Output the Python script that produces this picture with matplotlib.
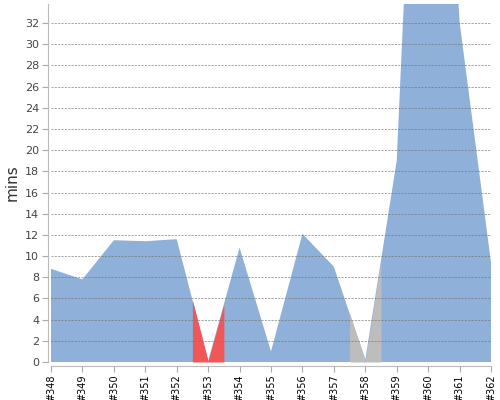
import numpy as np
import matplotlib.pyplot as plt

# build numbers (#348 .. #362) and their duration in minutes
builds = ['#348', '#349', '#350', '#351', '#352', '#353', '#354', '#355',
          '#356', '#357', '#358', '#359', '#360', '#361', '#362']
minutes = [8.8, 7.8, 11.5, 11.4, 11.6, 0.1, 10.8, 1.0,
           12.1, 9.0, 0.2, 19.0, 85.0, 32.1, 9.4]
status = ['ok', 'ok', 'ok', 'ok', 'ok', 'failed', 'ok', 'ok',
          'ok', 'ok', 'aborted', 'ok', 'ok', 'ok', 'ok']

status_colors = {'ok': '#8eb0d9', 'failed': '#f25757', 'aborted': '#bdbdbd'}


def draw():
    fig = plt.figure(figsize=(5, 4), dpi=100)
    ax = fig.add_axes([0.102, 0.095, 0.88, 0.895])

    x = np.arange(len(builds))
    y = np.array(minutes)

    # whole area in the "ok" colour, then other statuses painted over their half-way span
    ax.fill_between(x, 0, y, color=status_colors['ok'], linewidth=0, zorder=1)
    for i, st in enumerate(status):
        if st == 'ok':
            continue
        x0 = max(i - 0.5, 0)
        x1 = min(i + 0.5, len(builds) - 1)
        xs = [x0, i, x1]
        ys = np.interp(xs, x, y)
        ax.fill_between(xs, 0, ys, color=status_colors[st], linewidth=0, zorder=2)

    ax.set_xlim(0, len(builds) - 1)
    ax.set_ylim(0, 33.8)
    ax.set_yticks(np.arange(0, 33, 2))
    ax.set_xticks(x)
    ax.set_xticklabels(builds)
    ax.tick_params(axis='y', labelsize=8, labelcolor='#444444', color='#aaaaaa',
                   length=4, pad=2)
    ax.tick_params(axis='x', labelsize=7, labelcolor='black', labelrotation=90,
                   color='#aaaaaa', length=4, pad=2)

    ax.grid(axis='y', linestyle=(0, (2.5, 1.5)), color='#777777', linewidth=0.6,
            alpha=0.8, zorder=3)
    ax.set_axisbelow(False)

    for side in ['top', 'right']:
        ax.spines[side].set_visible(False)
    ax.spines['left'].set_position(('outward', 2.5))
    ax.spines['bottom'].set_position(('outward', 3))
    ax.spines['left'].set_color('#bbbbbb')
    ax.spines['bottom'].set_color('#bbbbbb')

    ax.set_ylabel('mins', fontsize=11, color='#333333', labelpad=4)

    fig.savefig('out.png', dpi=100)


if __name__ == '__main__':
    draw()
